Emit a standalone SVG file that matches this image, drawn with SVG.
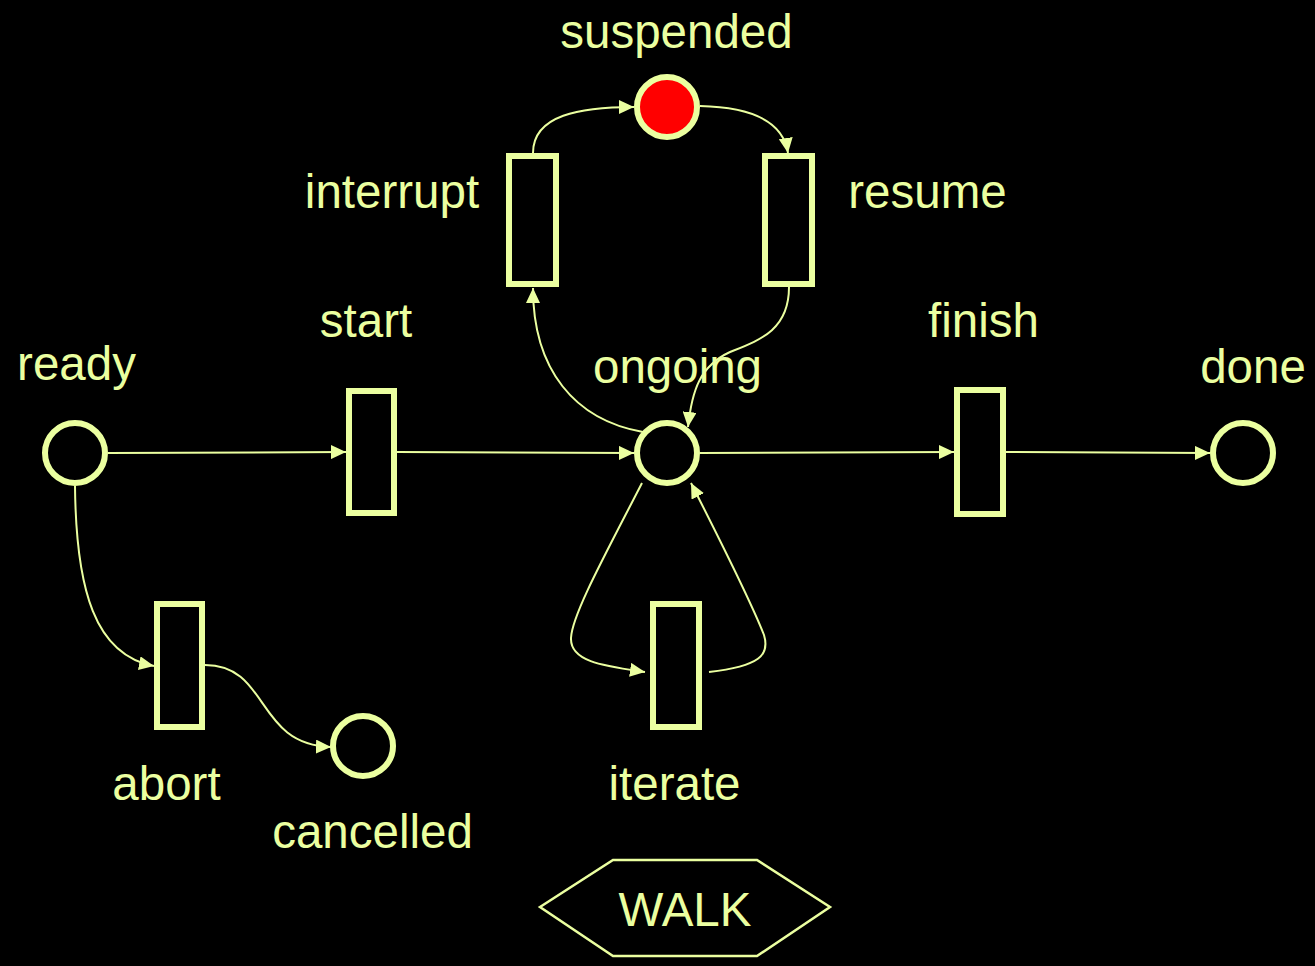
<svg xmlns="http://www.w3.org/2000/svg" width="1315" height="966" viewBox="0 0 1315 966">
  <style>
    .place { fill: none; stroke: #EBFFA0; stroke-width: 6; }
    .marked { fill: #FF0000; stroke: #EBFFA0; stroke-width: 6; }
    .trans { fill: none; stroke: #EBFFA0; stroke-width: 6; }
    .arc { fill: none; stroke: #EBFFA0; stroke-width: 2; marker-end: url(#arrow); }
    .label { font-family: "Liberation Sans", Arial, sans-serif; font-size: 47.5px; fill: #EBFFA0; text-anchor: middle; }
    .hex { fill: none; stroke: #EBFFA0; stroke-width: 2.5; }
  </style>
  <defs>
    <marker id="arrow" viewBox="0 0 15 14" refX="15" refY="7" markerWidth="15" markerHeight="14" markerUnits="userSpaceOnUse" orient="auto">
      <path d="M0,0 L15,7 L0,14 z" fill="#EBFFA0"/>
    </marker>
  </defs>
  <rect x="0" y="0" width="1315" height="966" fill="#000000"/>

  <g id="connectors">
    <path class="arc" d="M108,453 L346,452"/>
    <path class="arc" d="M397,452 L634,453"/>
    <path class="arc" d="M700,453 L954,452"/>
    <path class="arc" d="M1006,452 L1210,453"/>
    <path class="arc" d="M75,486 C76,590 95,655 154,666"/>
    <path class="arc" d="M205,665 C270,665 255,745 331,747"/>
    <path class="arc" d="M643,432 C575,420 533,370 533,288"/>
    <path class="arc" d="M789,287 C789,330 760,340 730,352 C700,366 692,390 688,427"/>
    <path class="arc" d="M533,153 C533,115 580,107 634,107"/>
    <path class="arc" d="M700,106 C750,107 783,120 788,153"/>
    <path class="arc" d="M642,483 C605,555 572,615 571,638 C570,662 605,666 645,672"/>
    <path class="arc" d="M709,672 C760,666 770,655 764,635 C755,612 720,540 691,483"/>
  </g>

  <g id="ready">
    <circle class="place" cx="75" cy="453" r="30"/>
    <text class="label" x="76.5" y="380">ready</text>
  </g>
  <g id="ongoing">
    <circle class="place" cx="667" cy="453" r="30"/>
    <text class="label" x="677.5" y="383">ongoing</text>
  </g>
  <g id="suspended">
    <circle class="marked" cx="667" cy="107" r="30"/>
    <text class="label" x="676.5" y="48">suspended</text>
  </g>
  <g id="done">
    <circle class="place" cx="1243" cy="453" r="30"/>
    <text class="label" x="1253" y="383">done</text>
  </g>
  <g id="cancelled">
    <circle class="place" cx="363" cy="746" r="30"/>
    <text class="label" x="372.5" y="848">cancelled</text>
  </g>

  <g id="start">
    <rect class="trans" x="349" y="391" width="45" height="122"/>
    <text class="label" x="366" y="337">start</text>
  </g>
  <g id="finish">
    <rect class="trans" x="957" y="390" width="46" height="124"/>
    <text class="label" x="983.5" y="337">finish</text>
  </g>
  <g id="abort">
    <rect class="trans" x="157" y="604" width="45" height="123"/>
    <text class="label" x="166.5" y="800">abort</text>
  </g>
  <g id="iterate">
    <rect class="trans" x="653" y="604" width="46" height="123"/>
    <text class="label" x="674.5" y="800">iterate</text>
  </g>
  <g id="interrupt">
    <rect class="trans" x="509" y="156" width="47" height="128"/>
    <text class="label" x="392" y="208">interrupt</text>
  </g>
  <g id="resume">
    <rect class="trans" x="765" y="156" width="47" height="128"/>
    <text class="label" x="927.5" y="208">resume</text>
  </g>

  <g id="walk">
    <polygon class="hex" points="540,907 613,860 757,860 830,907 757,956 613,956"/>
    <text class="label" x="685" y="926">WALK</text>
  </g>
</svg>
